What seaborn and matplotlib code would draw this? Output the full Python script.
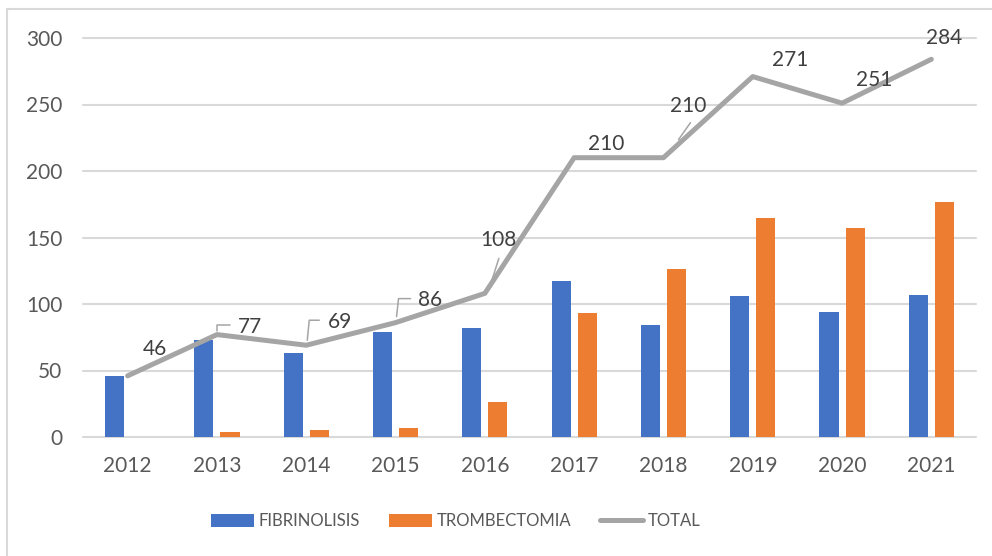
import numpy as np
import pandas as pd
import matplotlib
matplotlib.use("Agg")
import matplotlib.pyplot as plt
import matplotlib.patches as mpatches
from matplotlib.transforms import IdentityTransform
import seaborn as sns

# data
years = [2012, 2013, 2014, 2015, 2016, 2017, 2018, 2019, 2020, 2021]
fibrinolisis = [46, 73, 63, 79, 82, 117, 84, 106, 94, 107]
trombectomia = [0, 4, 5, 7, 26, 93, 126, 165, 157, 177]
total = [46, 77, 69, 86, 108, 210, 210, 271, 251, 284]

# label offsets (pixels, relative to the line point) and leader lines
label_offsets = [(27, 27), (33, 8), (34, 23), (35, 23), (14, 53),
                 (32, 14), (25, 52), (37, 17), (32, 23), (13, 21)]
leaders = {1: [(0, 4), (0, 10), (13, 10)],
           2: [(1, 5), (3, 25), (13, 25)],
           3: [(1, 6), (3, 24), (15, 24)],
           4: [(7, 13), (14, 35)],
           6: [(15, 18), (27, 35)]}

sns.set_style("white")
plt.rcParams['font.family'] = ['Lato', 'DejaVu Sans']

blue = '#4472C4'
orange = '#ED7D31'
gray = '#A5A5A5'
txt = '#595959'

df = pd.DataFrame({
    'year': years * 2,
    'value': fibrinolisis + trombectomia,
    'serie': ['FIBRINOLISIS'] * len(years) + ['TROMBECTOMIA'] * len(years),
})

fig = plt.figure(figsize=(9.92, 5.56), dpi=100)
ax = fig.add_axes([83 / 992, 1 - 437 / 556, 893 / 992, 399 / 556])

sns.barplot(data=df, x='year', y='value', hue='serie',
            palette=[blue, orange], width=0.584, gap=0.27,
            linewidth=0, saturation=1, ax=ax)
sns.lineplot(x=np.arange(len(years)), y=total, color=gray, lw=3.6,
             label='TOTAL', ax=ax)

ax.set_xlim(-0.5, len(years) - 0.5)
ax.set_ylim(0, 300)
ax.set_yticks(range(0, 301, 50))
ax.set_xlabel('')
ax.set_ylabel('')
ax.yaxis.grid(True, color='#D9D9D9', lw=1.5)
for gl in ax.get_ygridlines():
    gl.set_clip_on(False)
ax.set_axisbelow(True)
for s in ax.spines.values():
    s.set_visible(False)
ax.tick_params(axis='y', length=0, pad=15, labelsize=15, labelcolor=txt)
ax.tick_params(axis='x', length=0, pad=14, labelsize=15, labelcolor=txt)

# data labels on the total line
fig.canvas.draw()
for i, (v, (dx, dy)) in enumerate(zip(total, label_offsets)):
    ax.annotate(str(v), (i, v), xytext=(dx, dy), textcoords='offset pixels',
                ha='center', va='center', fontsize=15, color='#404040')
    if i in leaders:
        px, py = ax.transData.transform((i, v))
        xs = [px + p[0] for p in leaders[i]]
        ys = [py + p[1] for p in leaders[i]]
        ax.add_line(plt.Line2D(xs, ys, color=gray, lw=1.1,
                               transform=IdentityTransform(), clip_on=False))

handles, labels = ax.get_legend_handles_labels()
ax.get_legend().remove()
fig.legend(handles, labels, loc='center left', bbox_to_anchor=(211 / 992, 1 - 521 / 556),
           ncol=3, frameon=False, fontsize=12, labelcolor=txt, borderpad=0,
           borderaxespad=0, handlelength=2.55, handletextpad=0.3,
           columnspacing=1.75, handleheight=0.8)

# light frame of the chart area
fig.patches.append(mpatches.Rectangle((7 / 992, -0.1), 1.2, 1.1 - 9 / 556,
                                      transform=fig.transFigure, fill=False,
                                      edgecolor='#D9D9D9', lw=1.5, figure=fig))

fig.savefig('out.png', dpi=100)
